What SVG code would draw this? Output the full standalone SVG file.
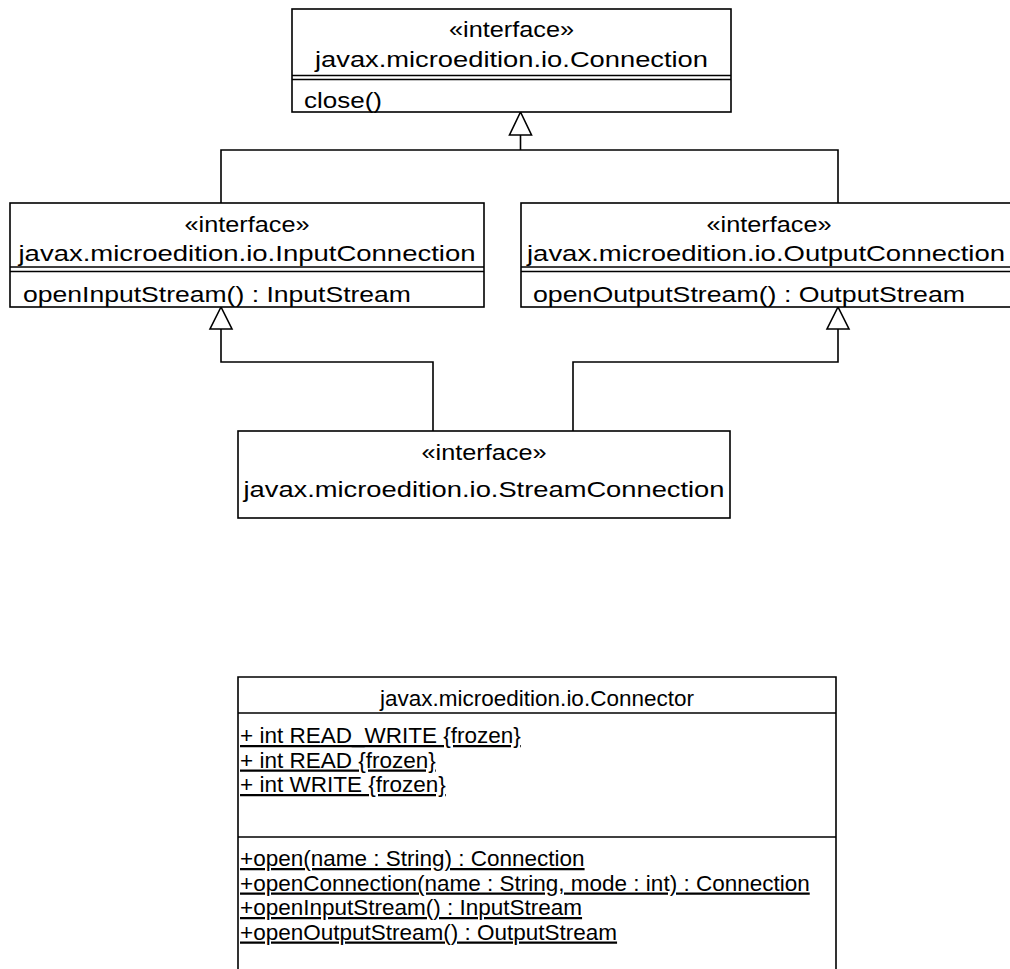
<svg xmlns="http://www.w3.org/2000/svg" width="1010" height="969" viewBox="0 0 1010 969">
<style>
  .box { fill: #fff; stroke: #000; stroke-width: 1.6; }
  .ln { fill: none; stroke: #000; stroke-width: 1.6; }
  .tri { fill: #fff; stroke: #000; stroke-width: 1.6; }
  text { font-family: "Liberation Sans", Arial, sans-serif; font-size: 22px; fill: #000; }
  .c { text-anchor: middle; }
  .k { font-size: 22.5px; }
  .u { text-decoration: underline; }
</style>
<rect width="1010" height="969" fill="#fff"/>

<g id="connectors">
  <polyline class="ln" points="221,203 221,150 838,150 838,203"/>
  <line class="ln" x1="520.5" y1="150" x2="520.5" y2="134"/>
  <path class="tri" d="M520.5 112 L509.5 135 L531.5 135 Z"/>
  <polyline class="ln" points="433,431 433,362 221,362 221,329"/>
  <path class="tri" d="M221 307 L210 329 L232 329 Z"/>
  <polyline class="ln" points="573,431 573,362 838,362 838,329"/>
  <path class="tri" d="M838 307 L827 329 L849 329 Z"/>
</g>

<g id="Connection">
  <rect class="box" x="292" y="9" width="439" height="103"/>
  <line class="ln" x1="292" y1="75.5" x2="731" y2="75.5"/>
  <line class="ln" x1="292" y1="79.5" x2="731" y2="79.5"/>
  <text class="c" x="511.5" y="37" textLength="125" lengthAdjust="spacingAndGlyphs">«interface»</text>
  <text class="c" x="511.5" y="67" textLength="393" lengthAdjust="spacingAndGlyphs">javax.microedition.io.Connection</text>
  <text x="304" y="108" textLength="78" lengthAdjust="spacingAndGlyphs">close()</text>
</g>

<g id="InputConnection">
  <rect class="box" x="10" y="203" width="474" height="104"/>
  <line class="ln" x1="10" y1="267" x2="484" y2="267"/>
  <line class="ln" x1="10" y1="271.5" x2="484" y2="271.5"/>
  <text class="c" x="247" y="232" textLength="125" lengthAdjust="spacingAndGlyphs">«interface»</text>
  <text class="c" x="247" y="261" textLength="457" lengthAdjust="spacingAndGlyphs">javax.microedition.io.InputConnection</text>
  <text x="23" y="302" textLength="388" lengthAdjust="spacingAndGlyphs">openInputStream() : InputStream</text>
</g>

<g id="OutputConnection">
  <rect class="box" x="521" y="203" width="496" height="104"/>
  <line class="ln" x1="521" y1="267" x2="1017" y2="267"/>
  <line class="ln" x1="521" y1="271.5" x2="1017" y2="271.5"/>
  <text class="c" x="769" y="232" textLength="125" lengthAdjust="spacingAndGlyphs">«interface»</text>
  <text class="c" x="766" y="261" textLength="478" lengthAdjust="spacingAndGlyphs">javax.microedition.io.OutputConnection</text>
  <text x="533" y="302" textLength="432" lengthAdjust="spacingAndGlyphs">openOutputStream() : OutputStream</text>
</g>

<g id="StreamConnection">
  <rect class="box" x="238" y="431" width="492" height="87"/>
  <text class="c" x="484" y="460" textLength="125" lengthAdjust="spacingAndGlyphs">«interface»</text>
  <text class="c" x="484" y="497" textLength="481" lengthAdjust="spacingAndGlyphs">javax.microedition.io.StreamConnection</text>
</g>

<g id="Connector">
  <path class="box" d="M238 975 L238 677 L836 677 L836 975"/>
  <line class="ln" x1="238" y1="713" x2="836" y2="713"/>
  <line class="ln" x1="238" y1="837" x2="836" y2="837"/>
  <text class="c k" x="537" y="706">javax.microedition.io.Connector</text>
  <text class="k u" x="240" y="743">+ int READ_WRITE {frozen}</text>
  <text class="k u" x="240" y="767.5">+ int READ {frozen}</text>
  <text class="k u" x="240" y="792">+ int WRITE {frozen}</text>
  <text class="k u" x="240" y="866">+open(name : String) : Connection</text>
  <text class="k u" x="240" y="890.5">+openConnection(name : String, mode : int) : Connection</text>
  <text class="k u" x="240" y="915">+openInputStream() : InputStream</text>
  <text class="k u" x="240" y="939.5">+openOutputStream() : OutputStream</text>
</g>
</svg>
